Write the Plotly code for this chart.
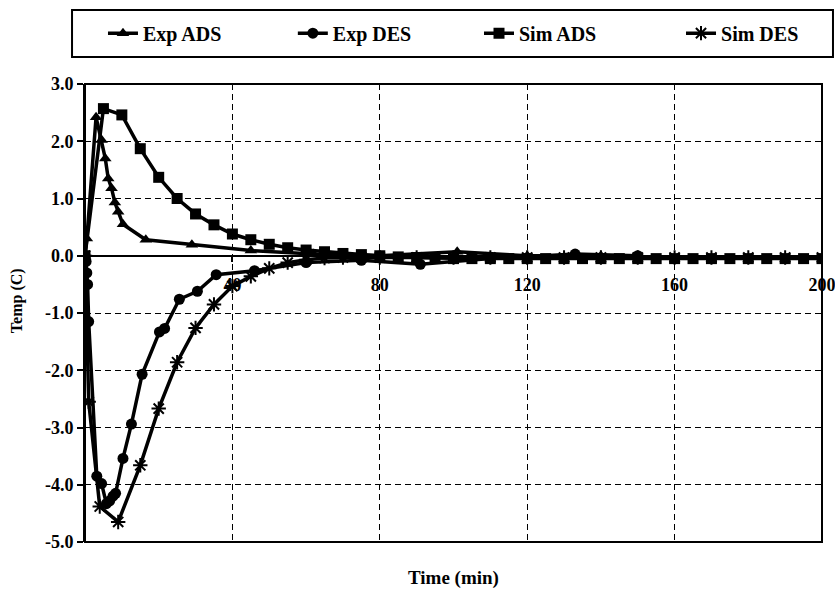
import plotly.graph_objects as go

# ---- data ----
exp_ads_t = [0, 0.5, 3.0, 4.5, 5.5, 6.3, 7.2, 8.1, 9.0, 10.3, 16.5, 29, 45, 62, 80, 101, 120, 140]
exp_ads_v = [0, 0.3, 2.42, 2.02, 1.70, 1.35, 1.18, 0.93, 0.77, 0.55, 0.28, 0.19, 0.09, 0.03, 0.0, 0.07, 0.0, 0.0]

exp_des_t = [0, 0.3, 0.5, 0.7, 1.0, 3.2, 4.5, 5.8, 6.7, 7.6, 8.3, 10.3, 12.6, 15.5, 20.2, 21.6,
             25.6, 30.5, 35.6, 46, 60, 75, 91, 110, 133, 150]
exp_des_v = [0, -0.1, -0.3, -0.5, -1.15, -3.85, -3.98, -4.33, -4.28, -4.2, -4.15, -3.54, -2.94, -2.07, -1.33, -1.27,
             -0.76, -0.62, -0.33, -0.26, -0.12, -0.08, -0.15, -0.05, 0.03, 0.0]

sim_ads_t = [0, 5, 10, 15, 20, 25, 30, 35, 40, 45, 50, 55, 60, 65, 70, 75, 80, 85, 90, 95,
             100, 105, 110, 115, 120, 125, 130, 135, 140, 145, 150, 155, 160, 165, 170, 175,
             180, 185, 190, 195, 200]
sim_ads_v = [0, 2.57, 2.46, 1.87, 1.37, 1.0, 0.73, 0.54, 0.38, 0.28, 0.2, 0.14, 0.1, 0.07, 0.04, 0.02,
             0.0, -0.02, -0.03, -0.04, -0.05, -0.05, -0.05, -0.05, -0.05, -0.05, -0.05, -0.05, -0.05,
             -0.05, -0.05, -0.05, -0.05, -0.05, -0.05, -0.05, -0.05, -0.05, -0.05, -0.05, -0.05]

sim_des_t = [0, 1, 4, 9, 15, 20, 25, 30, 35, 40, 45, 50, 55, 60, 65, 70, 75, 80, 90, 100,
             110, 120, 130, 140, 150, 160, 170, 180, 190, 200]
sim_des_v = [0, -2.55, -4.38, -4.65, -3.66, -2.67, -1.86, -1.26, -0.85, -0.53, -0.36, -0.22, -0.12,
             -0.07, -0.04, -0.03, -0.03, -0.03, -0.03, -0.03, -0.03, -0.03, -0.03, -0.03, -0.03,
             -0.03, -0.03, -0.03, -0.03, -0.03]

series_names = ["Exp ADS", "Exp DES", "Sim ADS", "Sim DES"]
x_tick_vals = [40, 80, 120, 160, 200]
x_tick_text = ["40", "80", "120", "160", "200"]
y_tick_vals = [3, 2, 1, 0, -1, -2, -3, -4, -5]
y_tick_text = ["3.0", "2.0", "1.0", "0.0", "-1.0", "-2.0", "-3.0", "-4.0", "-5.0"]

FONT = "Liberation Serif"
BLACK = "black"
LW = 3.5

fig = go.Figure()
fig.add_trace(go.Scatter(x=exp_ads_t, y=exp_ads_v, name=series_names[0], mode="lines+markers",
                         legend="legend",
                         line=dict(color=BLACK, width=LW),
                         marker=dict(symbol="triangle-up", size=11, color=BLACK)))
fig.add_trace(go.Scatter(x=exp_des_t, y=exp_des_v, name=series_names[1], mode="lines+markers",
                         legend="legend2",
                         line=dict(color=BLACK, width=LW),
                         marker=dict(symbol="circle", size=11, color=BLACK)))
fig.add_trace(go.Scatter(x=sim_ads_t, y=sim_ads_v, name=series_names[2], mode="lines+markers",
                         legend="legend3",
                         line=dict(color=BLACK, width=LW),
                         marker=dict(symbol="square", size=11, color=BLACK)))
fig.add_trace(go.Scatter(x=sim_des_t, y=sim_des_v, name=series_names[3], mode="lines+markers",
                         legend="legend4",
                         line=dict(color=BLACK, width=LW),
                         marker=dict(symbol="asterisk-open", size=12, color=BLACK,
                                     line=dict(color=BLACK, width=2))))

def leg(xpos):
    return dict(orientation="h", x=xpos, xanchor="left", y=1.111, yanchor="middle",
                font=dict(family=FONT, size=20, color=BLACK, weight="bold"),
                bgcolor="rgba(0,0,0,0)", borderwidth=0)

fig.update_layout(
    width=835, height=592,
    margin=dict(l=85, r=13, t=84, b=50),
    paper_bgcolor="white", plot_bgcolor="white",
    font=dict(family=FONT, size=16, color=BLACK, weight="bold"),
    showlegend=True,
    legend=leg(0.0244),
    legend2=leg(0.282),
    legend3=leg(0.5346),
    legend4=leg(0.8087),
    xaxis=dict(range=[0, 200], tickvals=x_tick_vals, ticktext=x_tick_text,
               anchor="free", position=0.625,
               showline=True, linecolor=BLACK, linewidth=2,
               ticks="outside", ticklen=5, tickwidth=1.5, tickcolor=BLACK,
               ticklabelstandoff=8, ticklabeloverflow="allow",
               showgrid=True, gridcolor=BLACK, gridwidth=1.3, griddash="6px,4px",
               zeroline=False, automargin=False,
               tickfont=dict(family=FONT, size=18, color=BLACK, weight="bold")),
    yaxis=dict(range=[-5, 3], tickvals=y_tick_vals, ticktext=y_tick_text,
               showline=True, linecolor=BLACK, linewidth=2,
               ticks="outside", ticklen=6, tickwidth=1.5, tickcolor=BLACK,
               showgrid=True, gridcolor=BLACK, gridwidth=1.3, griddash="6px,4px",
               zeroline=False, automargin=False,
               tickfont=dict(family=FONT, size=18, color=BLACK, weight="bold")),
    shapes=[
        dict(type="rect", xref="x domain", yref="y domain", x0=0, x1=1, y0=0, y1=1,
             line=dict(color=BLACK, width=2), layer="above"),
        dict(type="rect", xref="paper", yref="paper", x0=-0.0176, x1=1.0149, y0=1.059, y1=1.1616,
             line=dict(color=BLACK, width=2)),
    ],
    annotations=[
        dict(text="Time (min)", xref="paper", yref="paper", x=0.5, y=-0.0786,
             xanchor="center", yanchor="middle",
             showarrow=False, font=dict(family=FONT, size=19, color=BLACK, weight="bold")),
        dict(text="Temp (C)", xref="paper", yref="paper", x=-0.0923, y=0.528, textangle=-90,
             xanchor="center", yanchor="middle",
             showarrow=False, font=dict(family=FONT, size=16, color=BLACK, weight="bold")),
    ],
)

fig.write_html("out.html")
